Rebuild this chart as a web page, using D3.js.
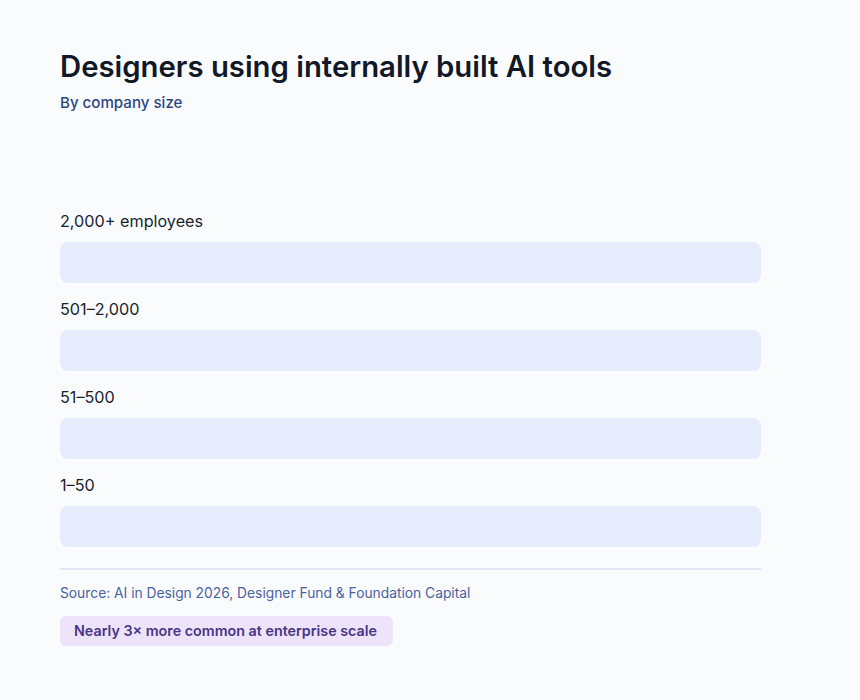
<!DOCTYPE html>
<html>
<head>
<meta charset="utf-8">
<script src="https://cdn.jsdelivr.net/npm/d3@7"></script>
<style>
  body { margin: 0; background: #f9fbfd; }
  svg { display: block; font-family: Inter, "Noto Sans", sans-serif; }
</style>
</head>
<body>
<div id="chart"></div>
<script>
// company size bands, top to bottom
var categories = ["2,000+ employees", "501\u20132,000", "51\u2013500", "1\u201350"];
// bars are empty in the reference (no fill drawn), so no values are shown
var values = [null, null, null, null];

var title = "Designers using internally built AI tools";
var subtitle = "By company size";
var source = "Source: AI in Design 2026, Designer Fund & Foundation Capital";
var callout = "Nearly 3\u00d7 more common at enterprise scale";

var width = 860, height = 700;
var left = 60, right = 761;

var svg = d3.select("#chart")
    .append("svg")
    .attr("width", width)
    .attr("height", height);

svg.append("rect")
    .attr("width", width)
    .attr("height", height)
    .attr("fill", "#f9fbfd");

svg.append("text")
    .attr("x", left)
    .attr("y", 77)
    .attr("font-size", 29.3)
    .attr("font-weight", 600)
    .attr("fill", "#111827")
    .text(title);

svg.append("text")
    .attr("x", left)
    .attr("y", 108)
    .attr("font-size", 15.1)
    .attr("font-weight", 500)
    .attr("fill", "#2b4582")
    .text(subtitle);

// one row = label + track
var y = d3.scaleBand()
    .domain(categories)
    .range([200, 552]);

var x = d3.scaleLinear()
    .domain([0, 100])
    .range([left, right]);

var rows = svg.selectAll("g.row")
    .data(categories)
    .enter()
    .append("g")
    .attr("class", "row")
    .attr("transform", function(d){ return "translate(0," + y(d) + ")"; });

rows.append("text")
    .attr("x", left)
    .attr("y", 27)
    .attr("font-size", 16.2)
    .attr("fill", "#1a1f2e")
    .text(function(d){ return d; });

rows.append("rect")
    .attr("x", x(0))
    .attr("y", 42)
    .attr("width", x(100) - x(0))
    .attr("height", 41)
    .attr("rx", 8)
    .attr("fill", "#e6ecfb");

rows.append("rect")
    .attr("x", x(0))
    .attr("y", 42)
    .attr("width", function(d, i){ return values[i] == null ? 0 : x(values[i]) - x(0); })
    .attr("height", 41)
    .attr("rx", 8)
    .attr("fill", "#5b5bd6");

svg.append("line")
    .attr("x1", left)
    .attr("x2", right)
    .attr("y1", 569)
    .attr("y2", 569)
    .attr("stroke", "#e1e7f5")
    .attr("stroke-width", 2);

svg.append("text")
    .attr("x", left)
    .attr("y", 598)
    .attr("font-size", 13.8)
    .attr("fill", "#4a62a0")
    .text(source);

var badge = svg.append("g");
var badgeText = badge.append("text")
    .attr("x", left + 14)
    .attr("y", 636)
    .attr("font-size", 14.3)
    .attr("font-weight", 600)
    .attr("fill", "#4a3585")
    .text(callout);
var bw = badgeText.node().getComputedTextLength();
badge.insert("rect", "text")
    .attr("x", left)
    .attr("y", 616)
    .attr("width", bw + 30)
    .attr("height", 30)
    .attr("rx", 6)
    .attr("fill", "#ede4fb");
</script>
</body>
</html>
